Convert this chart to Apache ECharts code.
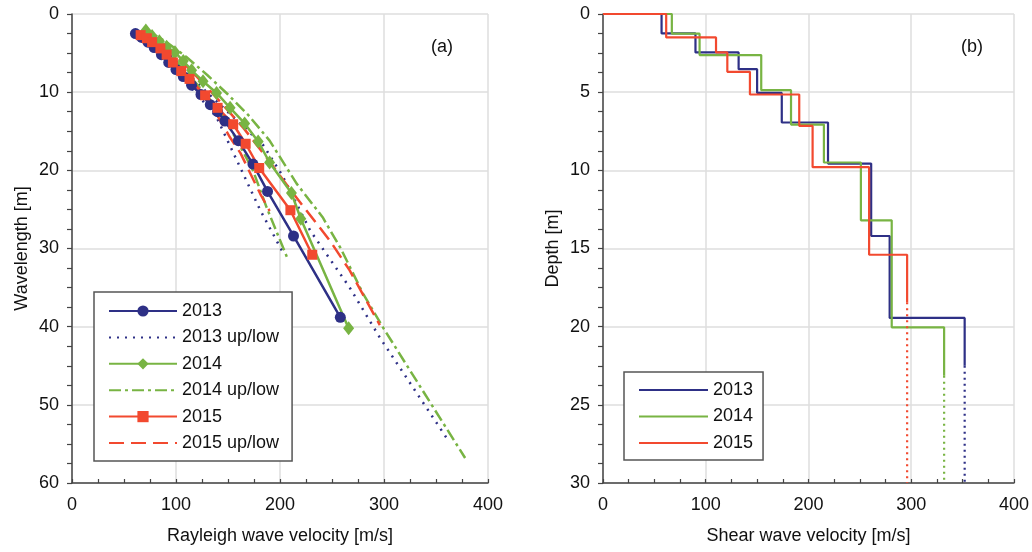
<!DOCTYPE html>
<html><head><meta charset="utf-8">
<script src="https://cdn.jsdelivr.net/npm/echarts@6/dist/echarts.min.js"></script>
<style>html,body{margin:0;padding:0;background:#fff}#c{width:1032px;height:552px}</style>
</head><body><div id="c"></div>
<script>
// ---------- Panel (a): Rayleigh wave dispersion (velocity [m/s], wavelength [m]) ----------
const v2013 = [61, 67, 73, 79, 86, 93, 100, 107, 115, 124, 133, 140, 147, 160, 174, 188, 213, 258];
const w2013 = [2.5, 3.0, 3.6, 4.3, 5.2, 6.2, 7.1, 8.0, 9.1, 10.3, 11.6, 12.5, 13.7, 16.2, 19.2, 22.7, 28.4, 38.8];
const v2014 = [71, 77, 84, 91, 99, 107, 115, 126, 139, 152, 166, 179, 190, 211, 220, 266];
const w2014 = [2.1, 2.8, 3.5, 4.2, 4.9, 6.0, 7.2, 8.6, 10.1, 12.0, 14.0, 16.3, 19.0, 22.9, 26.2, 40.2];
const v2015 = [66, 72, 77, 85, 91, 97, 105, 113, 128, 140, 155, 167, 180, 210, 231];
const w2015 = [2.7, 3.1, 3.6, 4.4, 5.2, 6.2, 7.3, 8.3, 10.4, 12.0, 14.1, 16.6, 19.7, 25.1, 30.8];

// bounds (low / up)
const low2013v = [60, 75, 90, 105, 120, 139, 163, 181, 202];
const low2013w = [2.5, 4.0, 5.8, 8.0, 10.2, 13.2, 20.0, 25.1, 30.3];
const up2013v = [63, 80, 100, 120, 140, 160, 184, 202, 229, 267, 296, 360];
const up2013w = [2.5, 3.6, 6.0, 8.8, 11.3, 13.8, 16.8, 20.6, 27.7, 35.0, 41.4, 54.2];
const low2014v = [68, 85, 100, 115, 130, 145, 160, 174, 187, 207];
const low2014w = [2.2, 4.0, 6.0, 8.2, 10.5, 13.0, 16.5, 20.0, 24.7, 31.2];
const up2014v = [72, 90, 110, 130, 150, 170, 190, 216, 241, 258, 280, 299, 378];
const up2014w = [2.1, 3.5, 5.5, 7.8, 10.3, 13.0, 16.2, 21.7, 26.0, 29.9, 35.8, 40.1, 56.8];
const low2015v = [64, 80, 95, 110, 122, 133, 152, 162, 181, 190];
const low2015w = [2.7, 4.2, 6.2, 8.3, 10.0, 11.4, 15.8, 17.8, 23.0, 25.2];
const up2015v = [68, 85, 105, 125, 145, 165, 185, 213, 248, 267, 296];
const up2015w = [2.6, 3.8, 6.0, 8.7, 11.6, 14.6, 18.0, 23.0, 29.0, 32.8, 39.8];

// ---------- Panel (b): shear wave velocity profiles (layer velocity, layer bottom depth) ----------
const vs2013 = [57, 90, 132, 150, 174, 219, 261, 279, 352];
const bottom2013 = [1.24, 2.46, 3.53, 5.05, 6.94, 9.57, 14.2, 19.44, 22.5];
const vs2014 = [67, 94, 154, 183, 215, 251, 281, 332];
const bottom2014 = [1.26, 2.63, 4.87, 7.07, 9.5, 13.2, 20.04, 23.14];
const vs2015 = [61.5, 110, 121, 143, 191, 204, 259, 296];
const bottom2015 = [1.5, 2.46, 3.7, 5.15, 7.16, 9.8, 15.4, 18.44];
const profileEnd = 30;

const xTicksLabel = [0, 100, 200, 300, 400];

const NAVY = '#2E3086', GREEN = '#78B443', RED = '#F2492F';
const FONT = 'Liberation Sans, Arial, sans-serif';

function pts(xs, ys) { return xs.map((x, i) => [x, ys[i]]); }
function steps(vs, bottoms) {
  const out = [[0, 0]]; let top = 0;
  vs.forEach((v, i) => { out.push([v, top]); out.push([v, bottoms[i]]); top = bottoms[i]; });
  return out;
}
function halfspace(vs, bottoms) {
  const v = vs[vs.length - 1];
  return [[v, bottoms[bottoms.length - 1]], [v, profileEnd]];
}

function xAxis(gi, name) {
  return {
    type: 'value', gridIndex: gi, min: xTicksLabel[0], max: xTicksLabel[xTicksLabel.length - 1], interval: 100,
    name: name, nameLocation: 'middle', nameGap: 44,
    nameTextStyle: { fontSize: 18, color: '#111', fontFamily: FONT },
    axisLine: { show: true, onZero: false, lineStyle: { color: '#444', width: 1.5 } },
    axisTick: { show: true, inside: true, length: 4, lineStyle: { color: '#444', width: 1.2 } },
    minorTick: { show: true, splitNumber: 4, length: 4, lineStyle: { color: '#444', width: 1.2 } },
    axisLabel: { fontSize: 18, color: '#111', margin: 13, fontFamily: FONT },
    splitLine: { show: true, lineStyle: { color: '#dedede', width: 1.5 } }
  };
}
function yAxis(gi, name, max, interval) {
  return {
    type: 'value', gridIndex: gi, min: 0, max: max, interval: interval, inverse: true,
    name: name, nameLocation: 'middle', nameGap: 41, nameRotate: 90,
    nameTextStyle: { fontSize: 18, color: '#111', fontFamily: FONT },
    axisLine: { show: true, onZero: false, lineStyle: { color: '#444', width: 1.5 } },
    axisTick: { show: true, inside: false, length: 5, lineStyle: { color: '#444', width: 1.2 } },
    minorTick: { show: true, splitNumber: 4, length: 5, lineStyle: { color: '#444', width: 1.2 } },
    axisLabel: { fontSize: 18, color: '#111', margin: 13, fontFamily: FONT },
    splitLine: { show: true, lineStyle: { color: '#dedede', width: 1.5 } }
  };
}

function mainSeries(name, color, symbol, size, data) {
  return { name, type: 'line', xAxisIndex: 0, yAxisIndex: 0, data, symbol, symbolSize: size,
    showSymbol: true, lineStyle: { color, width: 2.5 }, itemStyle: { color }, z: 3 };
}
function boundSeries(name, color, dash, data) {
  return { name, type: 'line', xAxisIndex: 0, yAxisIndex: 0, data, symbol: 'none',
    lineStyle: { color, width: 2.5, type: dash }, itemStyle: { color }, z: 2 };
}
function stepSeries(name, color, data, dash) {
  return { name, type: 'line', xAxisIndex: 1, yAxisIndex: 1, data, symbol: 'none',
    lineStyle: { color, width: 2.2, type: dash || 'solid' }, itemStyle: { color }, z: 2 };
}

const DOT13 = [2, 6], DASHDOT14 = [12, 4, 3, 4], DASH15 = [15, 7];
const noMark = name => ({ name, itemStyle: { opacity: 0 } });

const option = {
  animation: false,
  backgroundColor: '#fff',
  textStyle: { fontFamily: FONT },
  grid: [
    { left: 72, top: 14, width: 416, height: 469 },
    { left: 603, top: 14, width: 416, height: 469 }
  ],
  xAxis: [xAxis(0, 'Rayleigh wave velocity [m/s]'), xAxis(1, 'Shear wave velocity [m/s]')],
  yAxis: [yAxis(0, 'Wavelength [m]', 60, 10), yAxis(1, 'Depth [m]', 30, 5)],
  legend: [
    { left: 94, top: 292, orient: 'vertical', padding: [10, 13, 9, 14], itemWidth: 68, itemHeight: 14, itemGap: 8.4,
      borderColor: '#555', borderWidth: 1.5, backgroundColor: '#fff',
      textStyle: { fontSize: 18, color: '#111', fontFamily: FONT },
      data: ['2013', noMark('2013 up/low'), '2014', noMark('2014 up/low'), '2015', noMark('2015 up/low')] },
    { left: 624, top: 372, orient: 'vertical', padding: [9, 10, 8, 14], itemWidth: 69, itemHeight: 12, itemGap: 8.5,
      borderColor: '#555', borderWidth: 1.5, backgroundColor: '#fff',
      textStyle: { fontSize: 18, color: '#111', fontFamily: FONT },
      formatter: n => n.replace(' Vs', ''),
      data: [noMark('2013 Vs'), noMark('2014 Vs'), noMark('2015 Vs')] }
  ],
  graphic: [
    { type: 'text', left: 431, top: 38, style: { text: '(a)', fontSize: 18, fill: '#111', fontFamily: FONT } },
    { type: 'text', left: 961, top: 38, style: { text: '(b)', fontSize: 18, fill: '#111', fontFamily: FONT } }
  ],
  series: [
    mainSeries('2013', NAVY, 'circle', 11, pts(v2013, w2013)),
    boundSeries('2013 up/low', NAVY, DOT13, pts(low2013v, low2013w)),
    boundSeries('2013 up/low', NAVY, DOT13, pts(up2013v, up2013w)),
    mainSeries('2014', GREEN, 'diamond', [11, 14], pts(v2014, w2014)),
    boundSeries('2014 up/low', GREEN, DASHDOT14, pts(low2014v, low2014w)),
    boundSeries('2014 up/low', GREEN, DASHDOT14, pts(up2014v, up2014w)),
    mainSeries('2015', RED, 'rect', 10, pts(v2015, w2015)),
    boundSeries('2015 up/low', RED, DASH15, pts(low2015v, low2015w)),
    boundSeries('2015 up/low', RED, DASH15, pts(up2015v, up2015w)),

    stepSeries('2013 Vs', NAVY, steps(vs2013, bottom2013)),
    stepSeries('2013 Vs', NAVY, halfspace(vs2013, bottom2013), [2, 4]),
    stepSeries('2014 Vs', GREEN, steps(vs2014, bottom2014)),
    stepSeries('2014 Vs', GREEN, halfspace(vs2014, bottom2014), [2, 4]),
    stepSeries('2015 Vs', RED, steps(vs2015, bottom2015)),
    stepSeries('2015 Vs', RED, halfspace(vs2015, bottom2015), [2, 4])
  ]
};
const chart = echarts.init(document.getElementById('c'), null, { renderer: 'canvas' });
chart.setOption(option);
</script></body></html>
